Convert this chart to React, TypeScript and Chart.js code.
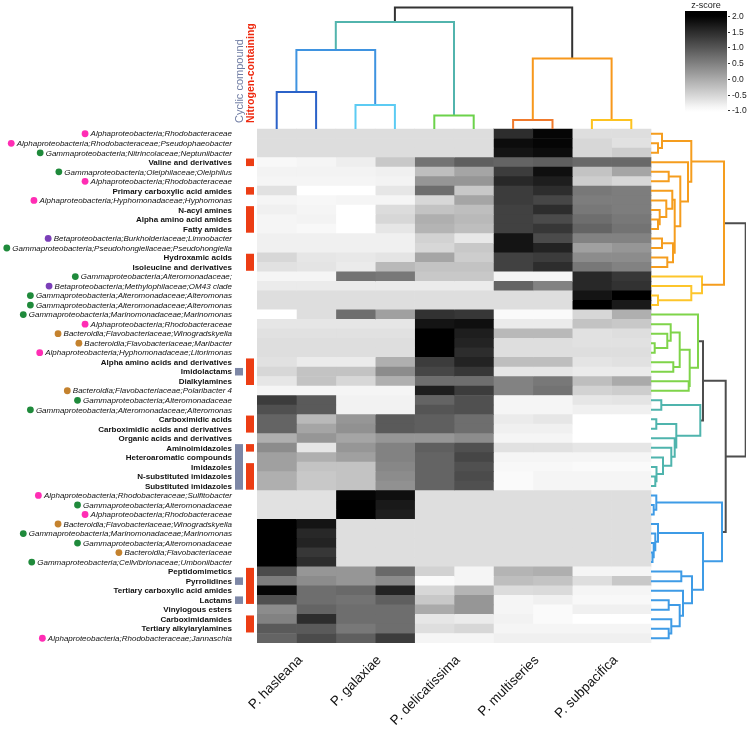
import React, { useEffect, useRef } from 'react';
import { Chart, registerables } from 'chart.js';

Chart.register(...registerables);

// ---------------- DATA ----------------
const SPECIES = ['P. hasleana', 'P. galaxiae', 'P. delicatissima', 'P. multiseries', 'P. subpacifica'];
const COLUMN_SPECIES = [0, 0, 1, 1, 2, 2, 3, 3, 4, 4];

const ROW_LABELS = [
  'Alphaproteobacteria;Rhodobacteraceae',
  'Alphaproteobacteria;Rhodobacteraceae;Pseudophaeobacter',
  'Gammaproteobacteria;Nitrincolaceae;Neptuniibacter',
  'Valine and derivatives',
  'Gammaproteobacteria;Oleiphilaceae;Oleiphilus',
  'Alphaproteobacteria;Rhodobacteraceae',
  'Primary carboxylic acid amides',
  'Alphaproteobacteria;Hyphomonadaceae;Hyphomonas',
  'N-acyl amines',
  'Alpha amino acid amides',
  'Fatty amides',
  'Betaproteobacteria;Burkholderiaceae;Limnobacter',
  'Gammaproteobacteria;Pseudohongiellaceae;Pseudohongiella',
  'Hydroxamic acids',
  'Isoleucine and derivatives',
  'Gammaproteobacteria;Alteromonadaceae;',
  'Betaproteobacteria;Methylophilaceae;OM43 clade',
  'Gammaproteobacteria;Alteromonadaceae;Alteromonas',
  'Gammaproteobacteria;Alteromonadaceae;Alteromonas',
  'Gammaproteobacteria;Marinomonadaceae;Marinomonas',
  'Alphaproteobacteria;Rhodobacteraceae',
  'Bacteroidia;Flavobacteriaceae;Winogradskyella',
  'Bacteroidia;Flavobacteriaceae;Maribacter',
  'Alphaproteobacteria;Hyphomonadaceae;Litorimonas',
  'Alpha amino acids and derivatives',
  'Imidolactams',
  'Dialkylamines',
  'Bacteroidia;Flavobacteriaceae;Polaribacter 4',
  'Gammaproteobacteria;Alteromonadaceae',
  'Gammaproteobacteria;Alteromonadaceae;Alteromonas',
  'Carboximidic acids',
  'Carboximidic acids and derivatives',
  'Organic acids and derivatives',
  'Aminoimidazoles',
  'Heteroaromatic compounds',
  'Imidazoles',
  'N-substituted imidazoles',
  'Substituted imidazoles',
  'Alphaproteobacteria;Rhodobacteraceae;Sulfitobacter',
  'Gammaproteobacteria;Alteromonadaceae',
  'Alphaproteobacteria;Rhodobacteraceae',
  'Bacteroidia;Flavobacteriaceae;Winogradskyella',
  'Gammaproteobacteria;Marinomonadaceae;Marinomonas',
  'Gammaproteobacteria;Alteromonadaceae',
  'Bacteroidia;Flavobacteriaceae',
  'Gammaproteobacteria;Cellvibrionaceae;Umboniibacter',
  'Peptidomimetics',
  'Pyrrolidines',
  'Tertiary carboxylic acid amides',
  'Lactams',
  'Vinylogous esters',
  'Carboximidamides',
  'Tertiary alkylarylamines',
  'Alphaproteobacteria;Rhodobacteraceae;Jannaschia',
];

// compound class flags per row
const NITROGEN = [0,0,0,1,0,0,1,0,1,1,1,0,0,1,1,0,0,0,0,0,0,0,0,0,1,1,1,0,0,0,1,1,0,1,0,1,1,1,0,0,0,0,0,0,0,0,1,1,1,1,0,1,1,0];
const CYCLIC   = [0,0,0,0,0,0,0,0,0,0,0,0,0,0,0,0,0,0,0,0,0,0,0,0,0,1,0,0,0,0,0,0,0,1,1,1,1,1,0,0,0,0,0,0,0,0,0,1,0,1,0,0,0,0];

// z-scores: rows x 10 samples
const Z = [
  [-0.6,-0.6,-0.6,-0.6,-0.6,-0.6,1.47,1.94,-0.61,-0.61],
  [-0.6,-0.6,-0.6,-0.6,-0.6,-0.6,1.86,1.94,-0.53,-0.65],
  [-0.6,-0.6,-0.6,-0.6,-0.6,-0.6,1.76,1.86,-0.53,-0.41],
  [-0.92,-0.88,-0.8,-0.35,0.65,0.88,0.82,0.88,0.76,0.76],
  [-0.86,-0.86,-0.86,-0.82,-0.24,0.06,1.29,1.82,-0.29,0.06],
  [-0.88,-0.88,-0.88,-0.86,0.24,0.24,1.53,1.65,-0.41,-0.53],
  [-0.65,-1,-1,-0.71,0.71,-0.35,1.29,1.47,0.59,0.53],
  [-0.88,-0.91,-0.88,-0.88,-0.53,0.06,1.29,1.18,0.53,0.53],
  [-0.82,-0.88,-1,-0.59,-0.29,-0.24,1.24,1.47,0.59,0.53],
  [-0.88,-0.86,-1,-0.53,-0.06,-0.18,1.24,1.12,0.71,0.59],
  [-0.88,-0.92,-1,-0.71,-0.12,-0.24,1.24,1.35,0.82,0.65],
  [-0.82,-0.82,-0.82,-0.82,-0.47,-0.73,1.76,1.12,0.47,0.47],
  [-0.82,-0.82,-0.82,-0.82,-0.53,-0.35,1.76,1.59,0.12,0.24],
  [-0.53,-0.71,-0.73,-0.68,0.06,-0.41,1.24,1.29,0.35,0.35],
  [-0.65,-0.68,-0.76,-0.18,-0.29,-0.29,1.24,1.47,0.59,0.47],
  [-0.88,-0.88,0.65,0.59,-0.35,-0.35,-0.88,-0.88,1.53,1.35],
  [-0.76,-0.76,-0.76,-0.76,-0.76,-0.76,0.82,0.47,1.53,1.41],
  [-0.61,-0.61,-0.61,-0.61,-0.61,-0.61,-0.61,-0.61,1.76,2],
  [-0.61,-0.61,-0.61,-0.61,-0.61,-0.61,-0.61,-0.61,2,1.71],
  [-1,-0.61,0.71,0.12,1.41,1.35,-0.94,-0.94,-0.53,-0.06],
  [-0.71,-0.71,-0.71,-0.71,1.76,1.82,-0.76,-0.76,-0.29,-0.35],
  [-0.65,-0.65,-0.65,-0.65,2,1.65,-0.18,-0.18,-0.65,-0.61],
  [-0.61,-0.61,-0.61,-0.61,2,1.59,-0.61,-0.61,-0.65,-0.65],
  [-0.61,-0.61,-0.61,-0.61,2,1.47,-0.61,-0.61,-0.61,-0.61],
  [-0.65,-0.76,-0.76,-0.06,1.29,1.59,-0.24,-0.24,-0.68,-0.65],
  [-0.53,-0.29,-0.29,0.35,1.18,1.35,-0.71,-0.71,-0.76,-0.76],
  [-0.71,-0.29,-0.53,-0.06,0.71,0.71,0.47,0.59,-0.24,0],
  [-0.88,-0.88,-0.88,-0.88,1.65,1.29,0.47,0.65,-0.47,-0.41],
  [1.29,0.94,-0.85,-0.85,0.82,1.06,-0.88,-0.88,-0.71,-0.68],
  [1.06,0.94,-0.85,-0.85,1,1.06,-0.88,-0.88,-0.82,-0.82],
  [0.82,-0.18,0.24,0.94,0.88,0.71,-0.76,-0.71,-1,-1],
  [0.82,0.06,0.29,0.94,0.88,0.71,-0.82,-0.82,-1,-1],
  [-0.06,0.24,0.06,0.24,0.24,0.35,-0.88,-0.88,-1,-1],
  [0.35,-0.71,0.24,0.47,0.88,1.06,-0.65,-0.65,-0.71,-0.71],
  [0.12,-0.06,0.12,0.47,0.82,1.18,-0.88,-0.88,-0.88,-0.88],
  [0.12,-0.29,-0.29,0.41,0.82,1.06,-0.92,-0.92,-0.94,-0.94],
  [-0.06,-0.35,-0.29,0.35,0.82,1.12,-0.94,-0.88,-0.88,-0.88],
  [-0.06,-0.35,-0.29,0.29,0.82,1.06,-0.94,-0.88,-0.88,-0.88],
  [-0.65,-0.65,1.94,1.82,-0.61,-0.61,-0.61,-0.61,-0.61,-0.61],
  [-0.65,-0.65,2,1.71,-0.61,-0.61,-0.61,-0.61,-0.61,-0.61],
  [-0.65,-0.65,2,1.65,-0.61,-0.61,-0.61,-0.61,-0.61,-0.61],
  [2,1.76,-0.61,-0.61,-0.61,-0.61,-0.61,-0.61,-0.61,-0.61],
  [2,1.53,-0.61,-0.61,-0.61,-0.61,-0.61,-0.61,-0.61,-0.61],
  [2,1.59,-0.61,-0.61,-0.61,-0.61,-0.61,-0.61,-0.61,-0.61],
  [2,1.35,-0.61,-0.61,-0.61,-0.61,-0.61,-0.61,-0.61,-0.61],
  [2,1.47,-0.61,-0.61,-0.61,-0.61,-0.61,-0.61,-0.61,-0.61],
  [1.12,0.24,0.24,0.76,-0.47,-0.88,-0.12,-0.06,-0.88,-0.88],
  [0.53,0.35,0.24,0.35,-0.94,-0.88,-0.24,-0.29,-0.61,-0.35],
  [1.94,0.71,0.76,1.59,-0.53,-0.12,-0.59,-0.56,-0.88,-0.88],
  [1.06,0.71,0.65,0.88,-0.35,0.24,-0.88,-0.82,-0.92,-0.92],
  [0.35,0.82,0.71,0.71,0,0.24,-0.88,-0.94,-0.82,-0.82],
  [0.47,1.47,0.71,0.71,-0.71,-0.76,-0.85,-0.94,-1,-1],
  [0.94,0.94,0.59,0.71,-0.61,-0.53,-0.88,-0.88,-0.88,-0.88],
  [0.82,1.12,0.88,1.29,-0.88,-0.88,-0.82,-0.82,-0.82,-0.82],
];

// Row dendrogram: [childA, childB, mergeHeight]; leaves are row indices
const ROW_ORANGE = [[0, [1, 2, 7], 11], [3, [[4, 5, 17.7], [[6, [7, [8, [9, 10, 7], 8.7], 15.3], 21.3], [[11, 12, 11], [13, 14, 16.3], 22], 23.7], 29.3], 37], 40.3];
const ROW_YELLOW = [15, [16, [17, 18, 7], 40.3], 51];
const ROW_GREEN = [19, [[[20, [21, [22, 23, 3.7], 16.3], 19.7], [24, 25, 22.3], 28.7], [26, 27, 37.7], 38.7], 47];
const ROW_TEAL = [[28, 29, 10.3], [[30, 31, 5.3], [32, [33, [34, [35, [36, 37, 4.3], 5.5], 12], 20.3], 23.7], 25.3], 49.3];
const ROW_BLUE = [[38, [39, 40, 2.7], 5.3], [[41, [42, [43, [44, 45, 1.5], 2.7], 4.3], 7], [[46, 47, 30.3], [48, [[49, 50, 17.7], [51, [52, 53, 17.7], 20.3], 28.7], 32], 41], 52], 71];
const ROW_OY = [ROW_ORANGE, ROW_YELLOW, 73];
const ROW_GT = [ROW_GREEN, ROW_TEAL, 52];
const ROW_REST = [ROW_GT, ROW_BLUE, 74.7];
const ROW_ROOT = [ROW_OY, ROW_REST, 94.7];

// Column dendrogram; leaves are sample indices
const COL_DARKBLUE = [0, 1, 37];
const COL_LIGHTBLUE = [2, 3, 24];
const COL_GREEN = [4, 5, 13.5];
const COL_BLUE = [COL_DARKBLUE, COL_LIGHTBLUE, 79];
const COL_TEAL = [COL_BLUE, COL_GREEN, 107];
const COL_REDORANGE = [6, 7, 9];
const COL_YELLOW = [8, 9, 9];
const COL_ORANGE = [COL_REDORANGE, COL_YELLOW, 70.5];
const COL_ROOT = [COL_TEAL, COL_ORANGE, 121.5];

const COLORBAR_TICKS = [2, 1.5, 1, 0.5, 0, -0.5, -1];
const Z_MIN = -1;
const Z_MAX = 2;

// ---------------- LAYOUT ----------------
const W = 750;
const H = 731;
const PLOT_LEFT = 257;
const HEAT_RIGHT = 651;
const PLOT_RIGHT = 746;
const PLOT_TOP = 3;
const HEAT_TOP = 129;
const HEAT_BOTTOM = 643;
const NCOL = 10;
const NROW = ROW_LABELS.length;
const COL_PX = (HEAT_RIGHT - PLOT_LEFT) / NCOL;
const ROW_PX = (HEAT_BOTTOM - HEAT_TOP) / NROW;
const X_MAX = (PLOT_RIGHT - PLOT_LEFT) / COL_PX;
const Y_MIN = -(HEAT_TOP - PLOT_TOP) / ROW_PX;

const FONT = '"Liberation Sans", Arial, Helvetica, sans-serif';

const TAXON_COLORS: [string, string][] = [
  ['Alphaproteobacteria', '#ff2db4'],
  ['Gammaproteobacteria', '#1f8a3b'],
  ['Betaproteobacteria', '#7b3fb8'],
  ['Bacteroidia', '#c4822e'],
];

function gray(z: number): string {
  const g = Math.round(Math.max(0, Math.min(255, (255 * (Z_MAX - z)) / (Z_MAX - Z_MIN))));
  return `rgb(${g},${g},${g})`;
}

type Node = any;
function pos(n: Node): number {
  return typeof n === 'number' ? n + 0.5 : (pos(n[0]) + pos(n[1])) / 2;
}
function hgt(n: Node): number {
  return typeof n === 'number' ? 0 : n[2];
}
function link(n: Node, out: any[]) {
  const [a, b, h] = n;
  out.push({ p: pos(a), h: hgt(a) }, { p: pos(a), h }, { p: pos(b), h }, { p: pos(b), h: hgt(b) }, null);
}
function subtree(n: Node, out: any[]) {
  if (typeof n === 'number') return;
  link(n, out);
  subtree(n[0], out);
  subtree(n[1], out);
}
function rowPts(segs: any[]) {
  return segs.map((s) => (s ? { x: NCOL + s.h / COL_PX, y: s.p } : { x: null, y: null }));
}
function colPts(segs: any[]) {
  return segs.map((s) => (s ? { x: s.p, y: -s.h / ROW_PX } : { x: null, y: null }));
}
function rowTree(nodes: Node[], linksOnly: Node[] = []) {
  const out: any[] = [];
  nodes.forEach((n) => subtree(n, out));
  linksOnly.forEach((n) => link(n, out));
  return rowPts(out);
}
function colTree(nodes: Node[], linksOnly: Node[] = []) {
  const out: any[] = [];
  nodes.forEach((n) => subtree(n, out));
  linksOnly.forEach((n) => link(n, out));
  return colPts(out);
}

function lineDs(data: any[], color: string) {
  return {
    type: 'line' as const,
    data,
    borderColor: color,
    borderWidth: 2,
    pointRadius: 0,
    fill: false,
    tension: 0,
    spanGaps: false,
    borderJoinStyle: 'miter' as const,
    borderCapStyle: 'butt' as const,
    order: 0,
  };
}

const overlayPlugin = {
  id: 'overlay',
  afterDraw(chart: any) {
    const ctx: CanvasRenderingContext2D = chart.ctx;
    const ys = chart.scales.y;
    const xs = chart.scales.x;
    ctx.save();

    // row labels
    ctx.textAlign = 'right';
    ctx.textBaseline = 'middle';
    ROW_LABELS.forEach((lab, r) => {
      const py = ys.getPixelForValue(r + 0.5);
      const tax = TAXON_COLORS.find(([k]) => lab.startsWith(k));
      ctx.font = tax ? `italic 8px ${FONT}` : `bold 8px ${FONT}`;
      ctx.fillStyle = '#111';
      ctx.fillText(lab, 232, py + 0.5);
      if (tax) {
        const w = ctx.measureText(lab).width;
        ctx.beginPath();
        ctx.fillStyle = tax[1];
        ctx.arc(232 - w - 5.5, py, 3.4, 0, Math.PI * 2);
        ctx.fill();
      }
    });

    // annotation strips
    const strip = (flags: number[], x0: number, w: number, color: string) => {
      let r = 0;
      while (r < flags.length) {
        if (flags[r]) {
          let e = r;
          while (e + 1 < flags.length && flags[e + 1]) e++;
          const t = ys.getPixelForValue(r) + 1;
          const b = ys.getPixelForValue(e + 1) - 1;
          ctx.fillStyle = color;
          ctx.fillRect(x0, t, w, b - t);
          r = e + 1;
        } else r++;
      }
    };
    strip(CYCLIC, 235, 8, '#7d87a6');
    strip(NITROGEN, 246, 8, '#ec3d14');

    // vertical titles
    ctx.save();
    ctx.translate(240, 123);
    ctx.rotate(-Math.PI / 2);
    ctx.textAlign = 'left';
    ctx.textBaseline = 'middle';
    ctx.font = `11px ${FONT}`;
    ctx.fillStyle = '#6f7ca3';
    ctx.fillText('Cyclic compound', 0, 0);
    ctx.restore();
    ctx.save();
    ctx.translate(251, 123);
    ctx.rotate(-Math.PI / 2);
    ctx.textAlign = 'left';
    ctx.textBaseline = 'middle';
    ctx.font = `bold 10.5px ${FONT}`;
    ctx.fillStyle = '#ee2a10';
    ctx.fillText('Nitrogen-containing', 0, 0);
    ctx.restore();

    // species labels
    SPECIES.forEach((sp, i) => {
      const cols = COLUMN_SPECIES.map((s, c) => (s === i ? c : -1)).filter((c) => c >= 0);
      const cx = xs.getPixelForValue((cols[0] + cols[cols.length - 1] + 1) / 2);
      ctx.save();
      ctx.translate(cx + 4, HEAT_BOTTOM + 15);
      ctx.rotate(-Math.PI / 4);
      ctx.textAlign = 'right';
      ctx.textBaseline = 'middle';
      ctx.font = `13.5px ${FONT}`;
      ctx.fillStyle = '#111';
      ctx.fillText(sp, 0, 0);
      ctx.restore();
    });

    // colour bar
    const cbL = 685, cbR = 727, cbT = 11, cbB = 112;
    const vTop = 2.15, vBot = -1.05;
    const vy = (v: number) => cbT + ((vTop - v) / (vTop - vBot)) * (cbB - cbT);
    const grad = ctx.createLinearGradient(0, cbT, 0, cbB);
    const steps = 20;
    for (let i = 0; i <= steps; i++) {
      const v = vTop - (i / steps) * (vTop - vBot);
      grad.addColorStop(i / steps, gray(v));
    }
    ctx.fillStyle = grad;
    ctx.fillRect(cbL, cbT, cbR - cbL, cbB - cbT);
    ctx.font = `9px ${FONT}`;
    ctx.fillStyle = '#222';
    ctx.textAlign = 'center';
    ctx.textBaseline = 'middle';
    ctx.fillText('z-score', (cbL + cbR) / 2, 6);
    ctx.textAlign = 'left';
    ctx.font = `8.5px ${FONT}`;
    ctx.strokeStyle = '#333';
    ctx.lineWidth = 1;
    COLORBAR_TICKS.forEach((v) => {
      const y = Math.round(vy(v)) + 0.5;
      ctx.beginPath();
      ctx.moveTo(cbR + 1, y);
      ctx.lineTo(cbR + 3, y);
      ctx.stroke();
      const t = (v < 0 ? '-' : '') + Math.abs(v).toFixed(1);
      ctx.fillText(t, cbR + 5, y);
    });

    ctx.restore();
  },
};

export default function App() {
  const ref = useRef<HTMLCanvasElement | null>(null);

  useEffect(() => {
    document.body.style.margin = '0';
    document.body.style.overflow = 'hidden';
    const canvas = ref.current;
    if (!canvas) return;

    const heatDatasets = Array.from({ length: NCOL }, (_, c) => ({
      type: 'bar' as const,
      data: Z.map((_row, r) => ({ x: c + 0.5, y: [r, r + 1] })),
      backgroundColor: Z.map((row) => gray(row[c])),
      borderWidth: 0,
      grouped: false,
      barPercentage: 1,
      categoryPercentage: 1,
      order: 1,
    }));

    const lineDatasets = [
      // row dendrogram
      lineDs(rowTree([ROW_ORANGE], [ROW_OY]), '#f59d1e'),
      lineDs(rowTree([ROW_YELLOW]), '#fdc52b'),
      lineDs(rowTree([ROW_GREEN]), '#7fd44a'),
      lineDs(rowTree([ROW_TEAL]), '#4fb4ad'),
      lineDs(rowTree([ROW_BLUE]), '#3e9be6'),
      lineDs(rowTree([], [ROW_GT, ROW_REST, ROW_ROOT]), '#4d4d4d'),
      // column dendrogram
      lineDs(colTree([COL_DARKBLUE]), '#2b62c8'),
      lineDs(colTree([COL_LIGHTBLUE]), '#5ccbf3'),
      lineDs(colTree([COL_GREEN]), '#6cd24b'),
      lineDs(colTree([], [COL_BLUE]), '#3f93e0'),
      lineDs(colTree([], [COL_TEAL]), '#52b4ad'),
      lineDs(colTree([COL_REDORANGE]), '#f07a2c'),
      lineDs(colTree([COL_YELLOW]), '#fdc320'),
      lineDs(colTree([], [COL_ORANGE]), '#f7981c'),
      lineDs(colTree([], [COL_ROOT]), '#333333'),
    ];

    const chart = new Chart(canvas, {
      type: 'bar',
      data: { datasets: [...heatDatasets, ...lineDatasets] as any },
      options: {
        responsive: false,
        animation: false,
        devicePixelRatio: 1,
        events: [],
        layout: {
          padding: { left: PLOT_LEFT, right: W - PLOT_RIGHT, top: PLOT_TOP, bottom: H - HEAT_BOTTOM },
        },
        plugins: { legend: { display: false }, tooltip: { enabled: false }, title: { display: false } },
        scales: {
          x: {
            type: 'linear',
            offset: false,
            min: 0,
            max: X_MAX,
            display: false,
            grid: { display: false, offset: false },
            afterBuildTicks: (axis: any) => {
              axis.ticks = Array.from({ length: NCOL + 1 }, (_, i) => ({ value: i }));
            },
          },
          y: {
            type: 'linear',
            reverse: true,
            min: Y_MIN,
            max: NROW,
            display: false,
            grid: { display: false },
          },
        },
      } as any,
      plugins: [overlayPlugin],
    });

    return () => chart.destroy();
  }, []);

  return (
    <div style={{ width: W, height: H, background: '#fff' }}>
      <canvas ref={ref} width={W} height={H} style={{ display: 'block' }} />
    </div>
  );
}
